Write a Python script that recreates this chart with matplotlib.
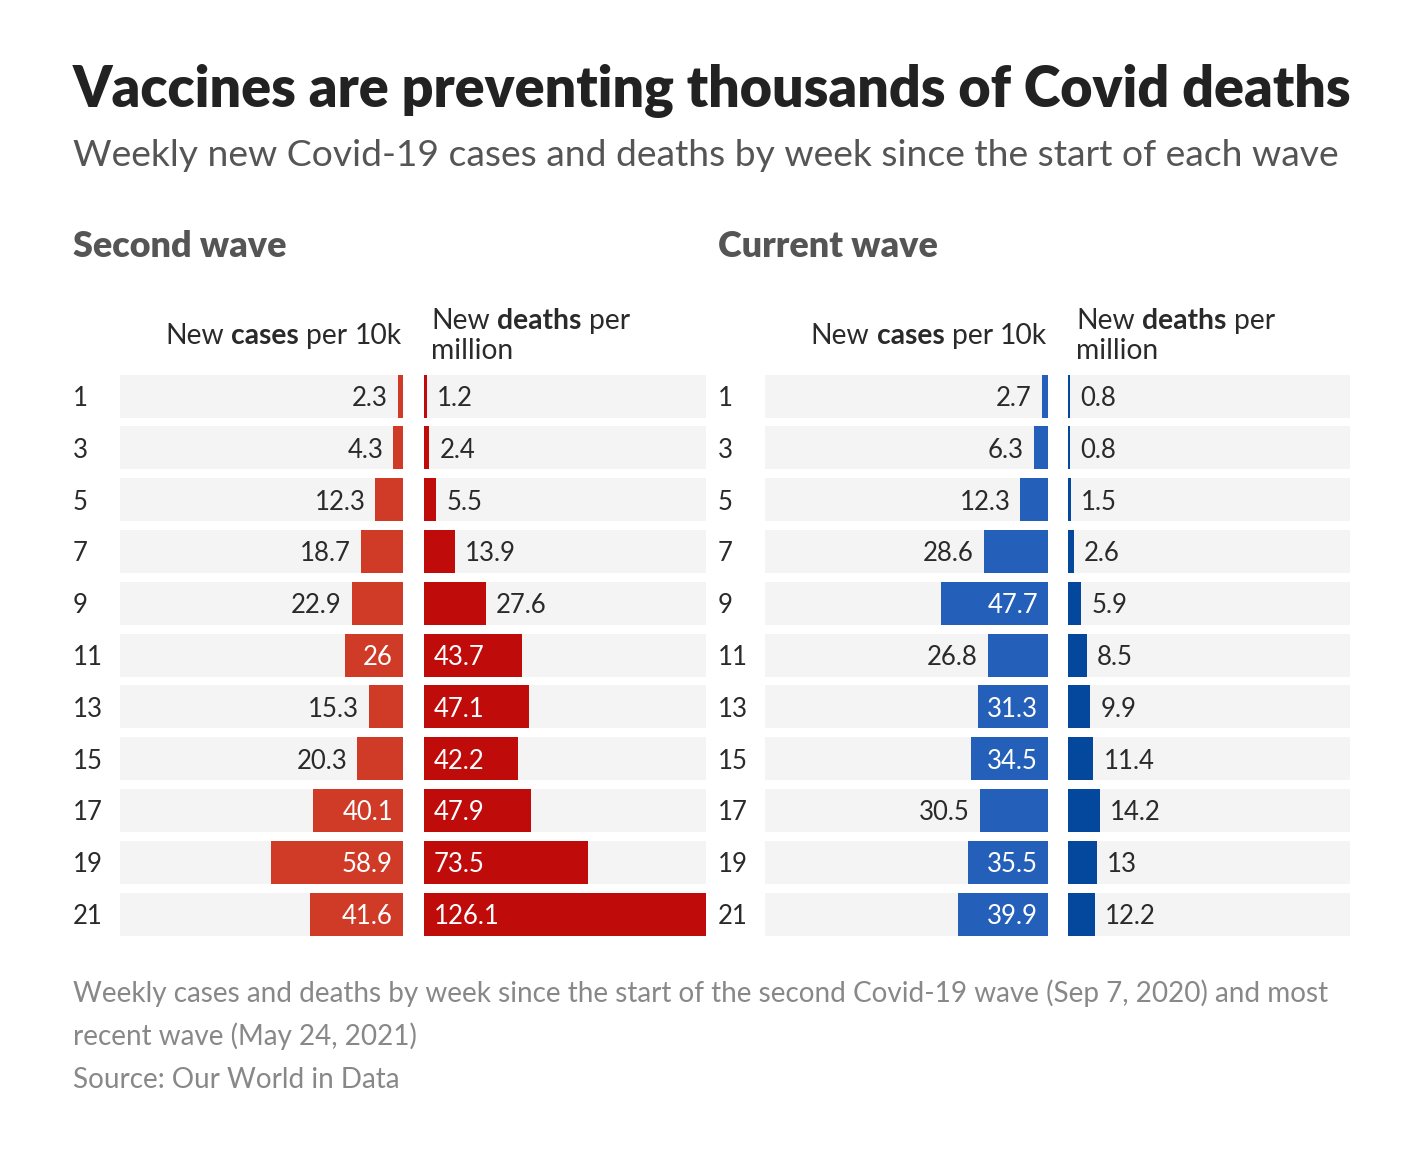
import matplotlib
matplotlib.use("Agg")
import matplotlib.pyplot as plt
from matplotlib import transforms
import numpy as np

plt.rcParams['font.family'] = ['Lato', 'DejaVu Sans']

# ---------------- data ----------------
weeks = [1, 3, 5, 7, 9, 11, 13, 15, 17, 19, 21]
second_cases = [2.3, 4.3, 12.3, 18.7, 22.9, 26, 15.3, 20.3, 40.1, 58.9, 41.6]
second_deaths = [1.2, 2.4, 5.5, 13.9, 27.6, 43.7, 47.1, 42.2, 47.9, 73.5, 126.1]
current_cases = [2.7, 6.3, 12.3, 28.6, 47.7, 26.8, 31.3, 34.5, 30.5, 35.5, 39.9]
current_deaths = [0.8, 0.8, 1.5, 2.6, 5.9, 8.5, 9.9, 11.4, 14.2, 13, 12.2]

title = "Vaccines are preventing thousands of Covid deaths"
subtitle = "Weekly new Covid-19 cases and deaths by week since the start of each wave"
panel_titles = ["Second wave", "Current wave"]
footer = ["Weekly cases and deaths by week since the start of the second Covid-19 wave (Sep 7, 2020) and most",
          "recent wave (May 24, 2021)",
          "Source: Our World in Data"]

# ---------------- style ----------------
W, H = 1420, 1157
DPI = 100
RED_CASES = "#d03b27"
RED_DEATHS = "#c00b0b"
BLUE_CASES = "#245fb9"
BLUE_DEATHS = "#03489c"
ROW_BG = "#f4f4f4"
DARK = "#2a2a2a"

fig = plt.figure(figsize=(W / DPI, H / DPI), dpi=DPI)
fig.patch.set_facecolor("white")
renderer = fig.canvas.get_renderer()


def fx(x):
    return x / W


def fy(y):
    return 1 - y / H


def px_axes(l, t, r, b):
    ax = fig.add_axes([fx(l), fy(b), (r - l) / W, (b - t) / H])
    ax.set_axis_off()
    return ax


def text_w(s, **kw):
    t = fig.text(0, 0, s, **kw)
    w = t.get_window_extent(renderer).width
    t.remove()
    return w


def fit_size(s, target_w, base=20, **kw):
    return base * target_w / text_w(s, fontsize=base, **kw)


def draw_runs(x, y, runs, ha="left", size=19, color=DARK):
    widths = []
    for s, wt in runs:
        widths.append(text_w(s, fontsize=size, fontweight=wt))
    sp = text_w("n n", fontsize=size) - text_w("nn", fontsize=size)
    total = sum(widths) + sp * (len(runs) - 1)
    x0 = x - total if ha == "right" else x
    for (s, wt), w in zip(runs, widths):
        fig.text(fx(x0), fy(y), s, fontsize=size, fontweight=wt, color=color,
                 ha="left", va="baseline")
        x0 += w + sp


# titles
ts = fit_size(title, 1282, fontweight="heavy")
fig.text(fx(73), fy(107), title, fontsize=ts, fontweight="heavy", color="#222222",
         ha="left", va="baseline")
ss = fit_size(subtitle, 1270)
fig.text(fx(73), fy(166), subtitle, fontsize=ss, color="#555555",
         ha="left", va="baseline")
ps = fit_size(panel_titles[0], 214, fontweight="heavy")
fig.text(fx(73), fy(257), panel_titles[0], fontsize=ps, fontweight="heavy",
         color="#555555", ha="left", va="baseline")
fig.text(fx(718), fy(257), panel_titles[1], fontsize=ps, fontweight="heavy",
         color="#555555", ha="left", va="baseline")

fs = fit_size(footer[0], 1258)
for i, line in enumerate(footer):
    fig.text(fx(73), fy(1002 + 43 * i), line, fontsize=fs, color="#888888",
             ha="left", va="baseline")

xmax = max(max(second_cases), max(second_deaths), max(current_cases), max(current_deaths))
row_c0, row_step = 396, 51.8
ax_top = row_c0 - row_step / 2
ax_bot = row_c0 + row_step * 10.5
BAR_H = 43 / row_step
VAL_SIZE = 18.5
PAD = 10        # px gap between bar edge and label
FIT_GAP = 18.2  # px of free room a label needs to sit inside its bar


def panel(l, r, values, color, direction):
    ax = px_axes(l, ax_top, r, ax_bot)
    y = np.arange(len(values))
    ax.barh(y, [xmax] * len(values), height=BAR_H, color=ROW_BG, linewidth=0)
    ax.barh(y, values, height=BAR_H, color=color, linewidth=0)
    ax.set_ylim(len(values) - 0.5, -0.5)
    if direction == "left":
        ax.set_xlim(xmax, 0)
    else:
        ax.set_xlim(0, xmax)
    ax_w = r - l
    sign = -1 if direction == "left" else 1
    ha = "right" if direction == "left" else "left"
    for yi, v in zip(y, values):
        lab = f"{v:g}"
        tw = text_w(lab, fontsize=VAL_SIZE)
        bw = v / xmax * ax_w
        inside = bw - tw >= FIT_GAP
        xv, col = (0, "white") if inside else (v, DARK)
        tr = transforms.offset_copy(ax.transData, fig=fig, x=sign * PAD * 72 / DPI,
                                    y=-10 * 72 / DPI, units="points")
        ax.text(xv, yi, lab, transform=tr, fontsize=VAL_SIZE, color=col,
                ha=ha, va="baseline")
    return ax


panel(120, 403, second_cases, RED_CASES, "left")
panel(424, 706, second_deaths, RED_DEATHS, "right")
panel(765, 1048, current_cases, BLUE_CASES, "left")
panel(1068, 1350, current_deaths, BLUE_DEATHS, "right")

for i, wk in enumerate(weeks):
    yb = row_c0 + row_step * i + 10
    fig.text(fx(73), fy(yb), str(wk), fontsize=VAL_SIZE, color=DARK, ha="left", va="baseline")
    fig.text(fx(718), fy(yb), str(wk), fontsize=VAL_SIZE, color=DARK, ha="left", va="baseline")

# column headers
HS = 20.3
for cx_r, dx_l in [(402, 431), (1047, 1076)]:
    draw_runs(cx_r, 344, [("New", "normal"), ("cases", "bold"), ("per", "normal"), ("10k", "normal")],
              ha="right", size=HS)
    draw_runs(dx_l, 329, [("New", "normal"), ("deaths", "bold"), ("per", "normal")],
              ha="left", size=HS)
    fig.text(fx(dx_l), fy(359), "million", fontsize=HS, color=DARK, ha="left", va="baseline")

fig.savefig("out.png", dpi=DPI, facecolor="white")
